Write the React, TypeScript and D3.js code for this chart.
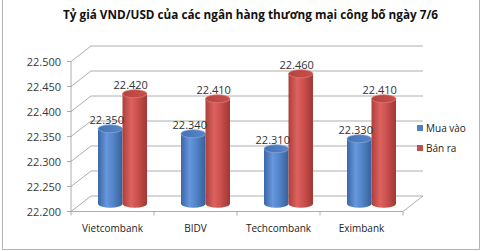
import React from "react";
import * as d3 from "d3";

const title = "Tỷ giá VND/USD của các ngân hàng thương mại công bố ngày 7/6";
const banks = ["Vietcombank", "BIDV", "Techcombank", "Eximbank"];
const muaVao = [22350, 22340, 22310, 22330];
const banRa = [22420, 22410, 22460, 22410];
const seriesNames = ["Mua vào", "Bán ra"];
const yTicks = [22200, 22250, 22300, 22350, 22400, 22450, 22500];

const fmt = (v: number) => (v / 1000).toFixed(3);

const W = 500, H = 251;
const DX = 20, DY = -15.5;
const FONT = "'Open Sans', 'Liberation Sans', sans-serif";

export default function App() {
  const y = d3.scaleLinear().domain([22200, 22500]).range([211.5, 61.5]);
  const x = d3.scaleBand<string>().domain(banks).range([71, 403]).padding(0);
  const bw = x.bandwidth() * 0.295;
  const rx = bw / 2;
  const ry = 4;
  const midDx = DX / 2, midDy = DY / 2;

  const cyl = (x0: number, v: number, s: number) => {
    const x1 = x0 + bw;
    const top = y(v) + midDy;
    const bot = y(22200) + midDy;
    const body = `M${x0},${top} L${x0},${bot} A${rx},${ry} 0 0 0 ${x1},${bot} L${x1},${top} Z`;
    return (
      <g key={`${s}-${x0}`}>
        <path d={body} fill={`url(#body${s})`} />
        <ellipse cx={x0 + rx} cy={top} rx={rx} ry={ry} fill={`url(#top${s})`} stroke={s === 0 ? "#86a9da" : "#dc7e7b"} strokeWidth={0.7} />
      </g>
    );
  };

  const grid = yTicks.map((t) => {
    const yy = y(t);
    return (
      <path key={t} d={`M71,${yy} L${71 + DX},${yy + DY} L${403 + DX},${yy + DY}`} fill="none" stroke="#999" strokeWidth={0.8} />
    );
  });

  return (
    <svg width={W} height={H} style={{ position: "absolute", left: 0, top: 0 }}>
      <defs>
        <linearGradient id="body0" x1="0" x2="1" y1="0" y2="0">
          <stop offset="0" stopColor="#3a66a6" />
          <stop offset="0.35" stopColor="#6797dc" />
          <stop offset="0.6" stopColor="#5586c9" />
          <stop offset="1" stopColor="#35609c" />
        </linearGradient>
        <linearGradient id="body1" x1="0" x2="1" y1="0" y2="0">
          <stop offset="0" stopColor="#ad3f3c" />
          <stop offset="0.35" stopColor="#dc6360" />
          <stop offset="0.6" stopColor="#cb524f" />
          <stop offset="1" stopColor="#a23633" />
        </linearGradient>
        <linearGradient id="top0" x1="0" x2="1" y1="0" y2="0">
          <stop offset="0" stopColor="#4574b6" />
          <stop offset="1" stopColor="#5584c8" />
        </linearGradient>
        <linearGradient id="top1" x1="0" x2="1" y1="0" y2="0">
          <stop offset="0" stopColor="#b6423f" />
          <stop offset="1" stopColor="#c8504c" />
        </linearGradient>
      </defs>
      <rect x={0} y={0} width={W} height={H} fill="#fff" />
      <path d="M2.5,0 L2.5,249.5 L479.5,249.5 L479.5,0" fill="none" stroke="#b4b4b4" strokeWidth={1} />
      <text x={250.5} y={18.5} textAnchor="middle" fontFamily={FONT} fontWeight="bold" fontSize={11.5} textLength={375} lengthAdjust="spacingAndGlyphs" fill="#111">
        {title}
      </text>
      {grid}
      <path d={`M71,${y(22200)} L403,${y(22200)} L${403 + DX},${y(22200) + DY}`} fill="none" stroke="#999" strokeWidth={0.8} />
      <line x1={71} x2={71} y1={y(22500)} y2={y(22200)} stroke="#999" strokeWidth={0.8} />
      {yTicks.map((t) => (
        <g key={"yt" + t}>
          <line x1={67} x2={71} y1={y(t)} y2={y(t)} stroke="#999" strokeWidth={0.8} />
          <text x={61} y={y(t) + 4} textAnchor="end" fontFamily={FONT} fontSize={11} fill="#3a3a3a">
            {fmt(t)}
          </text>
        </g>
      ))}
      {[...banks.map((b) => x(b)!), 403].map((tx, i) => (
        <line key={"xt" + i} x1={tx} x2={tx} y1={y(22200)} y2={y(22200) + 4} stroke="#999" strokeWidth={0.8} />
      ))}
      {banks.map((b) => (
        <text key={"xl" + b} x={x(b)! + x.bandwidth() / 2} y={232} textAnchor="middle" fontFamily={FONT} fontSize={10} fill="#222">
          {b}
        </text>
      ))}
      {banks.map((b, i) => {
        const c = x(b)! + x.bandwidth() / 2 + midDx;
        return (
          <g key={"bars" + b}>
            {cyl(c - bw, muaVao[i], 0)}
            {cyl(c, banRa[i], 1)}
          </g>
        );
      })}
      {banks.map((b, i) => {
        const c = x(b)! + x.bandwidth() / 2 + midDx;
        return (
          <g key={"lbl" + b}>
            <text x={c - bw / 2 - 3.5} y={y(muaVao[i]) + midDy - 5} textAnchor="middle" fontFamily={FONT} fontSize={11} fill="#333">
              {fmt(muaVao[i])}
            </text>
            <text x={c + bw / 2 - 4} y={y(banRa[i]) + midDy - 5} textAnchor="middle" fontFamily={FONT} fontSize={11} fill="#333">
              {fmt(banRa[i])}
            </text>
          </g>
        );
      })}
      {seriesNames.map((n, i) => (
        <g key={"lg" + n}>
          <rect x={417} y={125 + i * 20} width={6} height={6} fill={i === 0 ? "#4f81bd" : "#c0504d"} />
          <text x={426} y={131.5 + i * 20} fontFamily={FONT} fontSize={10} fill="#222">
            {n}
          </text>
        </g>
      ))}
    </svg>
  );
}
